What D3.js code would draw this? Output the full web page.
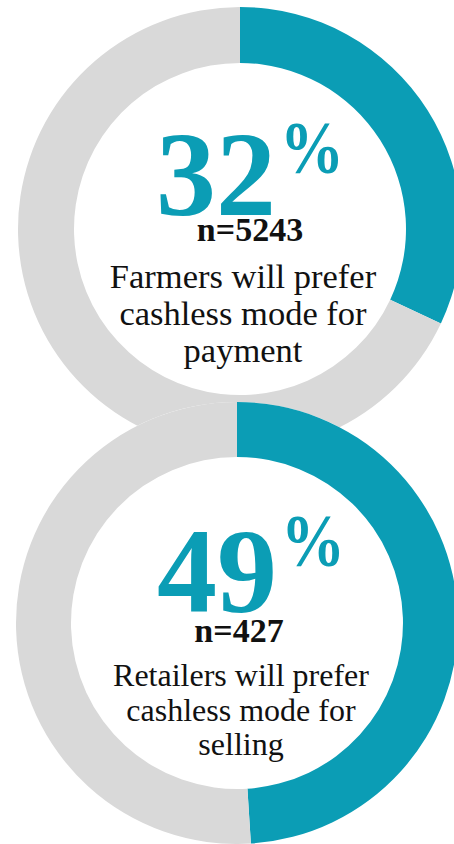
<!DOCTYPE html>
<html><head><meta charset="utf-8">
<script src="https://cdn.jsdelivr.net/npm/d3@7"></script>
<style>
  body { margin: 0; background: #fff; }
  text { font-family: Georgia, "Liberation Serif", serif; }
</style>
</head><body>
<svg id="chart" width="454" height="844"></svg>
<script>
// Share of respondents preferring cashless mode, per group
const groups = ["Farmers", "Retailers"];
const shares = [32, 49];
const sampleSizes = [5243, 427];
const captions = [
  ["Farmers will prefer", "cashless mode for", "payment"],
  ["Retailers will prefer", "cashless mode for", "selling"]
];

const TEAL = "#0b9db5";
const GREY = "#d9d9d9";

// Ring placement and sizing for each group
const layout = [
  { cx: 240, cy: 229, outer: 222, inner: 166, numEnd: 276, numBase: 215, pctX: 280, pctBase: 173, nX: 250, nBase: 241, capX: 243, capBase: 288, capSize: 34.5, capGap: 37 },
  { cx: 237, cy: 623, outer: 221, inner: 166, numEnd: 277, numBase: 612, pctX: 281, pctBase: 566, nX: 239, nBase: 642, capX: 241, capBase: 686, capSize: 32, capGap: 34.5 }
];

const svg = d3.select("#chart");
const pie = d3.pie().sort(null).startAngle(0).endAngle(2 * Math.PI);

groups.forEach((g, i) => {
  const L = layout[i];
  const arc = d3.arc().innerRadius(L.inner).outerRadius(L.outer);
  const slices = pie([shares[i], 100 - shares[i]]);

  const ring = svg.append("g")
    .attr("class", "ring ring-" + g.toLowerCase())
    .attr("transform", `translate(${L.cx},${L.cy})`);

  // white disc behind the ring so the hole covers anything beneath it
  ring.append("circle").attr("r", L.outer).attr("fill", "#fff");

  ring.selectAll("path")
    .data(slices)
    .join("path")
    .attr("d", arc)
    .attr("fill", (d, j) => j === 0 ? TEAL : GREY);

  // big percentage
  svg.append("text")
    .attr("x", L.numEnd)
    .attr("y", L.numBase)
    .attr("text-anchor", "end")
    .attr("fill", TEAL)
    .style("font-weight", "bold")
    .style("font-size", "120px")
    .text(shares[i]);

  // raised percent sign, drawn a little taller than the font gives
  svg.append("text")
    .attr("transform", `translate(${L.pctX},${L.pctBase}) scale(1,1.17)`)
    .attr("fill", TEAL)
    .style("font-weight", "bold")
    .style("font-size", "64px")
    .text("%");

  // sample size
  svg.append("text")
    .attr("x", L.nX)
    .attr("y", L.nBase)
    .attr("text-anchor", "middle")
    .attr("fill", "#111")
    .style("font-weight", "bold")
    .style("font-size", "34px")
    .text("n=" + sampleSizes[i]);

  // caption lines
  svg.append("g")
    .selectAll("text")
    .data(captions[i])
    .join("text")
    .attr("x", L.capX)
    .attr("y", (d, k) => L.capBase + k * L.capGap)
    .attr("text-anchor", "middle")
    .attr("fill", "#111")
    .style("font-size", L.capSize + "px")
    .text(d => d);
});
</script></body></html>
